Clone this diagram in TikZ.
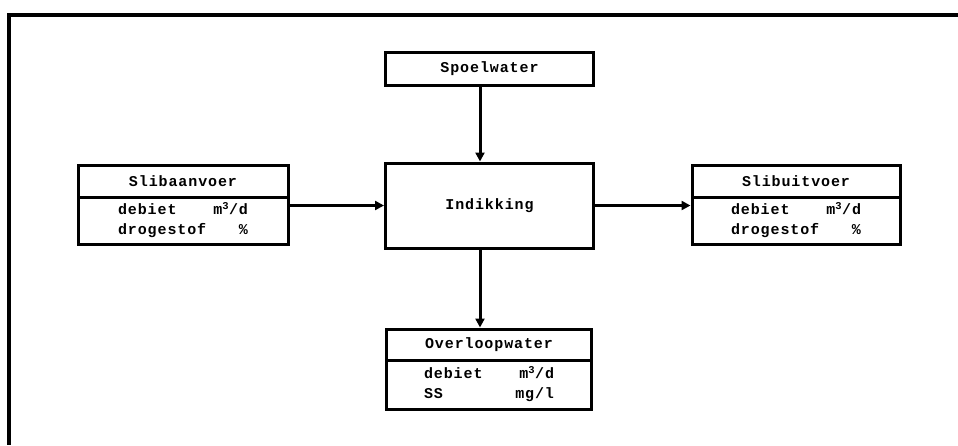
\documentclass[tikz,border=0pt]{standalone}
\usepackage{fontspec}
\usepackage{tikz}
\usetikzlibrary{arrows.meta, positioning}
\newfontfamily\dotfont[LetterSpace=6]{Liberation Mono}

\newcommand{\tworows}[4]{%
  \raisebox{-3pt}{\begin{tabular*}{130pt}{@{}l@{\extracolsep{\fill}}r@{}}
    #1 & #2\\
    #3 & #4
  \end{tabular*}}}

\begin{document}
\begin{tikzpicture}[
    x=1pt, y=-1pt,
    node distance=-3pt,
    titlebox/.style={
      rectangle,
      draw=black,
      line width=3pt,
      inner sep=0pt,
      minimum width=208pt,
      minimum height=32pt,
      font=\dotfont\bfseries\fontsize{15}{19.5}\selectfont
    },
    databox/.style={
      titlebox,
      minimum height=47pt
    },
    flow/.style={-{Triangle[length=9pt, width=9pt]}, line width=3pt}
  ]
    \useasboundingbox (0,0) rectangle (958,445);

    % frame
    \draw[line width=4pt] (958,15) -- (9,15) -- (9,445);

    \node[titlebox, minimum height=33pt] (spoel) at (489.5,68.5) {Spoelwater};
    \node[titlebox, minimum height=85pt] (indik) at (489.5,205.5) {\raisebox{3pt}{Indikking}};

    \node[titlebox, minimum width=210pt] (aanvoer) at (183,181) {Slibaanvoer};
    \node[databox, minimum width=210pt, below=of aanvoer] (aanvoerdata)
      {\tworows{debiet}{m\textsuperscript{3}/d}{drogestof}{\%}};

    \node[titlebox] (uitvoer) at (796,181) {Slibuitvoer};
    \node[databox, below=of uitvoer] (uitvoerdata)
      {\tworows{debiet}{m\textsuperscript{3}/d}{drogestof}{\%}};

    \node[titlebox, minimum width=205pt, minimum height=31pt] (overloop) at (489,344.5) {Overloopwater};
    \node[databox, minimum width=205pt, minimum height=49pt, below=of overloop] (overloopdata)
      {\tworows{debiet}{m\textsuperscript{3}/d}{SS}{mg/l}};

    \draw[flow] ([xshift=-9.5pt]spoel.south) -- ([xshift=-9.5pt]indik.north);
    \draw[flow] (indik.west -| aanvoerdata.east) -- (indik.west);
    \draw[flow] (indik.east) -- (indik.east -| uitvoerdata.west);
    \draw[flow] ([xshift=-9.5pt]indik.south) -- ([xshift=-9pt]overloop.north);
  \end{tikzpicture}
\end{document}
